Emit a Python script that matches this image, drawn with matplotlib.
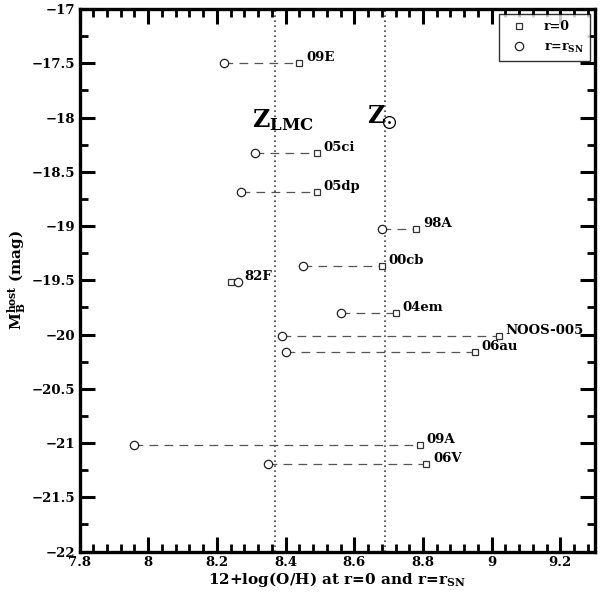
import matplotlib
matplotlib.use('Agg')
import matplotlib.pyplot as plt
from matplotlib.ticker import MultipleLocator

# supernova names and host values
names = ['09E', '05ci', '05dp', '98A', '00cb', '82F', '04em',
         'NOOS-005', '06au', '09A', '06V']
oh_center = [8.44, 8.49, 8.49, 8.78, 8.68, 8.24, 8.72, 9.02, 8.95, 8.79, 8.81]
oh_sn = [8.22, 8.31, 8.27, 8.68, 8.45, 8.26, 8.56, 8.39, 8.40, 7.96, 8.35]
mag_b = [-17.50, -18.33, -18.69, -19.03, -19.37, -19.52, -19.80,
         -20.01, -20.16, -21.02, -21.19]

z_lmc = 8.37
z_sun = 8.69

plt.rcParams['font.family'] = 'DejaVu Serif'
plt.rcParams['font.weight'] = 'bold'
plt.rcParams['mathtext.fontset'] = 'dejavuserif'

fig = plt.figure(figsize=(6.0, 5.97), dpi=100)
ax = fig.add_axes([0.1325, 0.0762, 0.8587, 0.9087])

# reference metallicities
ax.axvline(z_lmc, color='#444444', ls=(0, (1, 2)), lw=1.2, zorder=1)
ax.axvline(z_sun, color='#444444', ls=(0, (1, 2)), lw=1.2, zorder=1)
ax.text(8.392, -18.02, r'$\mathbf{Z_{LMC}}$', fontsize=17, ha='center', va='center')
ax.text(8.664, -17.99, r'$\mathbf{Z}$', fontsize=17, ha='center', va='center')
ax.plot(8.70, -18.04, 'o', ms=8.5, mfc='none', mec='k', mew=0.9)
ax.plot(8.70, -18.04, '.', ms=2, color='k')

for i in range(len(names)):
    ax.plot([oh_sn[i], oh_center[i]], [mag_b[i], mag_b[i]], color='#555555',
            ls=(0, (7, 5)), lw=0.9, zorder=2)
    ax.annotate(names[i], (max(oh_sn[i], oh_center[i]), mag_b[i]),
                xytext=(5, 4), textcoords='offset points', fontsize=9.5,
                fontweight='bold', va='center', ha='left')

ax.plot(oh_center, mag_b, 's', ms=5, mfc='white', mec='#333333', mew=0.9,
        label='r=0', zorder=3)
ax.plot(oh_sn, mag_b, 'o', ms=6, mfc='white', mec='#222222', mew=0.9,
        label=r'r=r$_\mathbf{SN}$', zorder=3)

ax.set_xlim(7.8, 9.3)
ax.set_ylim(-22, -17)
ax.xaxis.set_major_locator(MultipleLocator(0.2))
ax.xaxis.set_minor_locator(MultipleLocator(0.04))
ax.yaxis.set_major_locator(MultipleLocator(0.5))
ax.yaxis.set_minor_locator(MultipleLocator(0.25))
ax.set_xticks([7.8, 8, 8.2, 8.4, 8.6, 8.8, 9, 9.2])
ax.set_xticklabels(['7.8', '8', '8.2', '8.4', '8.6', '8.8', '9', '9.2'])
ax.set_yticks([-17, -17.5, -18, -18.5, -19, -19.5, -20, -20.5, -21, -21.5, -22])
ax.set_yticklabels(['\u221217', '\u221217.5', '\u221218', '\u221218.5', '\u221219',
                    '\u221219.5', '\u221220', '\u221220.5', '\u221221',
                    '\u221221.5', '\u221222'])

ax.tick_params(which='both', direction='in', top=True, right=True,
               labelsize=9.5, pad=3)
ax.tick_params(which='major', length=11, width=2.2)
ax.tick_params(which='minor', length=5.5, width=2.0)
for sp in ax.spines.values():
    sp.set_linewidth(2.4)

ax.set_xlabel(r'12+log(O/H) at r=0 and r=r$_\mathbf{SN}$', fontsize=11,
              fontweight='bold', labelpad=1)
ax.set_ylabel(r'$\mathbf{M_B^{host}}$ (mag)', fontsize=11, fontweight='bold',
              labelpad=2)

leg = ax.legend(loc='upper right', fontsize=9, frameon=True, fancybox=False,
                edgecolor='k', handlelength=2.2, handletextpad=0.9,
                borderpad=0.5, labelspacing=0.6, borderaxespad=0.4)
leg.get_frame().set_linewidth(1.0)

fig.savefig('out.png', dpi=100)
